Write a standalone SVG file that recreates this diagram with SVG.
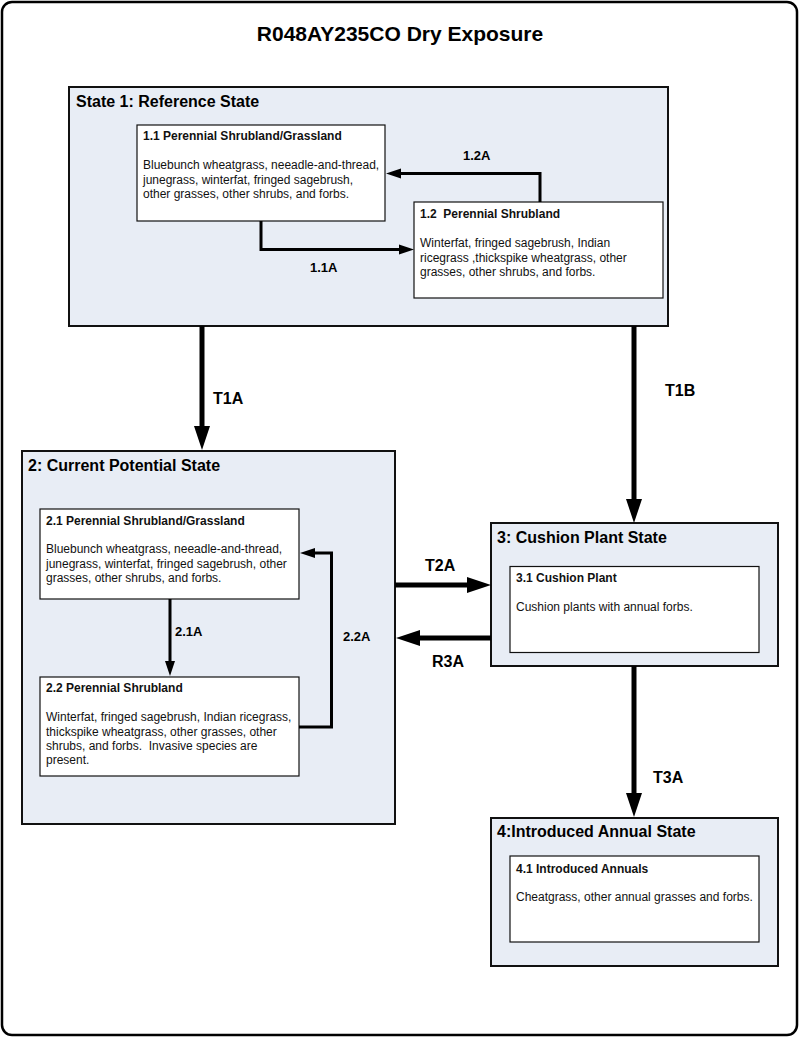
<svg xmlns="http://www.w3.org/2000/svg" width="800" height="1038" viewBox="0 0 800 1038">
<style>
.frame{fill:#fff;stroke:#000;stroke-width:2.5}
.state{fill:#e8edf5;stroke:#111;stroke-width:2}
.comm{fill:#fff;stroke:#111;stroke-width:1.2}
.title{font-family:"Liberation Sans",Arial,sans-serif;font-weight:bold;font-size:21px;fill:#000}
.stitle{font-family:"Liberation Sans",Arial,sans-serif;font-weight:bold;font-size:16px;fill:#000}
.ctitle{font-family:"Liberation Sans",Arial,sans-serif;font-weight:bold;font-size:12px;fill:#111}
.body{font-family:"Liberation Sans",Arial,sans-serif;font-size:12px;fill:#111}
.lbl{font-family:"Liberation Sans",Arial,sans-serif;font-weight:bold;font-size:16px;fill:#000}
.lbls{font-family:"Liberation Sans",Arial,sans-serif;font-weight:bold;font-size:13px;fill:#000}
.thick{fill:none;stroke:#000;stroke-width:5}
.thin{fill:none;stroke:#000;stroke-width:3}
</style>
<defs>
<marker id="bigHead" markerUnits="userSpaceOnUse" markerWidth="24" markerHeight="16" viewBox="0 -8 24 16" refX="0" refY="0" orient="auto" overflow="visible">
<path d="M0,-8 L24,0 L0,8 z" fill="#000"/>
</marker>
<marker id="smallHead" markerUnits="userSpaceOnUse" markerWidth="15" markerHeight="10" viewBox="0 -5 15 10" refX="0" refY="0" orient="auto" overflow="visible">
<path d="M0,-5 L15,0 L0,5 z" fill="#000"/>
</marker>
</defs>
<rect class="frame" x="2" y="2" width="795" height="1033" rx="10" ry="10"/>
<text class="title" x="400" y="41" text-anchor="middle">R048AY235CO Dry Exposure</text>

<g id="state1">
<rect class="state" x="69" y="87" width="599" height="239"/>
<text class="stitle" x="76" y="107">State 1: Reference State</text>
</g>
<g id="c11">
<rect class="comm" x="137" y="125" width="248" height="96"/>
<text class="ctitle" x="143" y="140">1.1 Perennial Shrubland/Grassland</text>
<text class="body" x="143" y="169">Bluebunch wheatgrass, neeadle-and-thread,</text>
<text class="body" x="143" y="183.5">junegrass, winterfat, fringed sagebrush,</text>
<text class="body" x="143" y="198">other grasses, other shrubs, and forbs.</text>
</g>
<g id="c12">
<rect class="comm" x="414" y="202" width="249" height="96"/>
<text class="ctitle" x="420" y="217.5" xml:space="preserve">1.2  Perennial Shrubland</text>
<text class="body" x="420" y="247">Winterfat, fringed sagebrush, Indian</text>
<text class="body" x="420" y="261.5">ricegrass ,thickspike wheatgrass, other</text>
<text class="body" x="420" y="276">grasses, other shrubs, and forbs.</text>
</g>

<g id="state2">
<rect class="state" x="22" y="451" width="373" height="373"/>
<text class="stitle" x="28" y="471">2: Current Potential State</text>
</g>
<g id="c21">
<rect class="comm" x="40" y="509" width="259" height="90"/>
<text class="ctitle" x="46" y="525">2.1 Perennial Shrubland/Grassland</text>
<text class="body" x="46" y="553">Bluebunch wheatgrass, neeadle-and-thread,</text>
<text class="body" x="46" y="567.5">junegrass, winterfat, fringed sagebrush, other</text>
<text class="body" x="46" y="582">grasses, other shrubs, and forbs.</text>
</g>
<g id="c22">
<rect class="comm" x="40" y="677" width="259" height="99"/>
<text class="ctitle" x="46" y="692">2.2 Perennial Shrubland</text>
<text class="body" x="46" y="721">Winterfat, fringed sagebrush, Indian ricegrass,</text>
<text class="body" x="46" y="735.5">thickspike wheatgrass, other grasses, other</text>
<text class="body" x="46" y="750" xml:space="preserve">shrubs, and forbs.  Invasive species are</text>
<text class="body" x="46" y="764">present.</text>
</g>

<g id="state3">
<rect class="state" x="491" y="523" width="287" height="143"/>
<text class="stitle" x="497" y="542.5">3: Cushion Plant State</text>
</g>
<g id="c31">
<rect class="comm" x="510" y="566.5" width="249" height="86"/>
<text class="ctitle" x="516" y="582">3.1 Cushion Plant</text>
<text class="body" x="516" y="611">Cushion plants with annual forbs.</text>
</g>

<g id="state4">
<rect class="state" x="491" y="818" width="287" height="148"/>
<text class="stitle" x="497" y="837">4:Introduced Annual State</text>
</g>
<g id="c41">
<rect class="comm" x="510" y="856" width="249" height="86"/>
<text class="ctitle" x="516" y="872.5">4.1 Introduced Annuals</text>
<text class="body" x="516" y="901">Cheatgrass, other annual grasses and forbs.</text>
</g>

<g id="connectors">
<path class="thick" d="M202,326 V426" marker-end="url(#bigHead)"/>
<path class="thick" d="M634,326 V499" marker-end="url(#bigHead)"/>
<path class="thick" d="M395,585 H467" marker-end="url(#bigHead)"/>
<path class="thick" d="M491,638 H420" marker-end="url(#bigHead)"/>
<path class="thick" d="M634,666 V793" marker-end="url(#bigHead)"/>
<path class="thin" d="M261,221 V249.5 H399" marker-end="url(#smallHead)"/>
<path class="thin" d="M540,202 V173.5 H401" marker-end="url(#smallHead)"/>
<path class="thin" d="M170,599 V661" marker-end="url(#smallHead)"/>
<path class="thin" d="M299,727 H331.5 V553 H315" marker-end="url(#smallHead)"/>
<text class="lbl" x="213" y="404">T1A</text>
<text class="lbl" x="665" y="396">T1B</text>
<text class="lbl" x="425" y="571">T2A</text>
<text class="lbl" x="432" y="667">R3A</text>
<text class="lbl" x="653" y="783">T3A</text>
<text class="lbls" x="463" y="160">1.2A</text>
<text class="lbls" x="310" y="272">1.1A</text>
<text class="lbls" x="175" y="636">2.1A</text>
<text class="lbls" x="343" y="641">2.2A</text>
</g>
</svg>
